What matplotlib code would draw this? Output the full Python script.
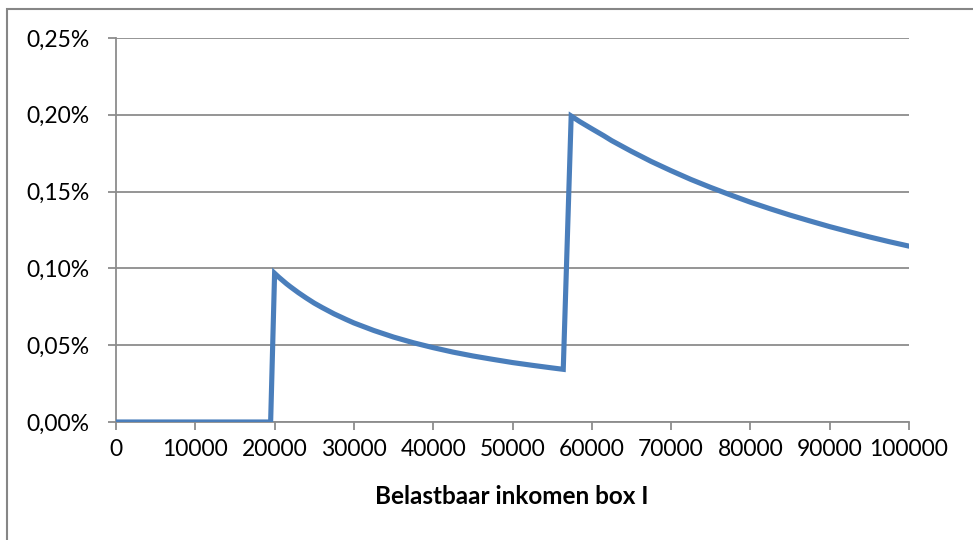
import matplotlib.pyplot as plt
from matplotlib.patches import Rectangle
from matplotlib.ticker import FuncFormatter, MultipleLocator

# income (x) and percentage (y)
income = [0, 19500,
          20000, 20500, 21000, 21500, 22000, 23000, 24000, 25000, 26000,
          27500, 29000, 30000, 32500, 35000, 37500, 40000,
          42500, 45000, 47500, 50000, 52500, 55000, 56400,
          57400, 58500, 60000, 61500, 62500, 65000, 67500, 70000, 72500,
          75000, 77500, 80000, 82500, 85000, 87500, 90000, 92500, 95000,
          97500, 100000]
pct = [0.0, 0.0,
       0.0968, 0.0944, 0.0922, 0.0900, 0.0880, 0.0842, 0.0807, 0.0774, 0.0745,
       0.0704, 0.0668, 0.0645, 0.0596, 0.0553, 0.0516, 0.0484,
       0.0455, 0.0430, 0.0408, 0.0387, 0.0369, 0.0352, 0.0343,
       0.1992, 0.1955, 0.1909, 0.1864, 0.1832, 0.1762, 0.1696, 0.1636, 0.1579,
       0.1527, 0.1478, 0.1431, 0.1388, 0.1347, 0.1309, 0.1272, 0.1238, 0.1205,
       0.1174, 0.1145]

x_label = 'Belastbaar inkomen box I'

plt.rcParams['font.family'] = ['Lato', 'DejaVu Sans']

fig = plt.figure(figsize=(9.73, 5.4), dpi=100)
ax = fig.add_axes([116 / 973, 1 - 422 / 540, (909 - 116) / 973, (422 - 38) / 540])

# outer chart border (runs off the right and bottom of the picture)
fig.patches.append(Rectangle((7 / 973, -0.1), 1.2, 1 - 9 / 540 + 0.1,
                             transform=fig.transFigure, fill=False,
                             edgecolor='#868686', linewidth=1.5))

grey = '#8c8c8c'
ax.plot(income, pct, color='#4a7ebb', linewidth=3.7,
        solid_joinstyle='miter', solid_capstyle='round', zorder=3)

ax.set_xlim(0, 100000)
ax.set_ylim(0, 0.25)
ax.xaxis.set_major_locator(MultipleLocator(10000))
ax.yaxis.set_major_locator(MultipleLocator(0.05))
ax.yaxis.set_major_formatter(FuncFormatter(lambda v, p: f'{v:.2f}%'.replace('.', ',')))
ax.xaxis.set_major_formatter(FuncFormatter(lambda v, p: f'{int(v)}'))

ax.grid(axis='y', color=grey, linewidth=1.3)
ax.set_axisbelow(True)
for side in ['top', 'right']:
    ax.spines[side].set_visible(False)
for side in ['left', 'bottom']:
    ax.spines[side].set_color(grey)
    ax.spines[side].set_linewidth(1.3)

ax.tick_params(axis='both', direction='out', length=6, width=1.3, color=grey,
               labelsize=16.5, labelcolor='black')
ax.tick_params(axis='y', pad=13)
ax.tick_params(axis='x', pad=6)

fig.text(512 / 973, 1 - 496 / 540, x_label, ha='center', va='center',
         fontsize=17.5, fontweight='bold')

fig.savefig('out.png', dpi=100)
